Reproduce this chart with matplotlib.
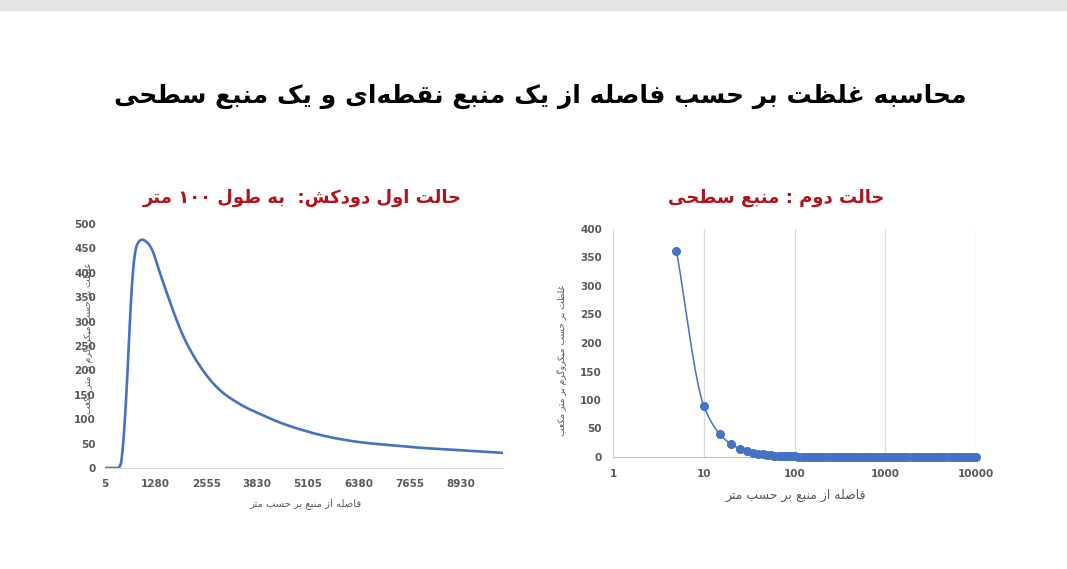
import re
import numpy as np
import matplotlib
matplotlib.use("Agg")
import matplotlib.pyplot as plt
from matplotlib.patches import Rectangle, PathPatch
from matplotlib.path import Path

# --- data ---
# case 1: chimney (point source), distance in m vs concentration
dist1 = [5, 300, 350, 400, 450, 500, 550, 600, 650, 700, 750, 800, 850, 900, 950,
         1000, 1100, 1200, 1300, 1400, 1500, 1600, 1800, 2000, 2250, 2500, 2750,
         3000, 3250, 3500, 4000, 4500, 5000, 5500, 6000, 6500, 7000, 7500, 8000,
         8500, 9000, 9500, 10000]
conc1 = [0, 0, 1, 8, 40, 95, 165, 248, 330, 395, 435, 455, 463, 467, 468,
         466, 459, 445, 421, 396, 372, 349, 304, 265, 227, 196, 171,
         152, 138, 126, 107, 90, 77, 66, 58, 52, 48, 44.5, 41,
         38.5, 36, 33.5, 31]
xticks1 = [5, 1280, 2555, 3830, 5105, 6380, 7655, 8930]

# case 2: area source
dist2 = [5, 10, 15, 20, 25, 30, 35, 40, 45, 50, 55, 60, 65, 70, 75, 80, 85, 90, 95, 100,
         110, 120, 130, 140, 150, 160, 170, 180, 190, 200, 215, 230, 250, 270, 290,
         310, 330, 350, 380, 410, 440, 470, 500, 540, 580, 620, 670, 720, 770, 830,
         890, 950, 1000, 1080, 1160, 1250, 1350, 1450, 1550, 1650, 1800, 1950, 2100,
         2250, 2400, 2600, 2800, 3000, 3250, 3500, 3750, 4000, 4300, 4600, 5000,
         5400, 5800, 6200, 6700, 7200, 7700, 8300, 8900, 9500, 10000]
conc2 = [362, 90, 40, 22.6, 14.5, 10, 7.4, 5.7, 4.5, 3.6, 3.0, 2.5, 2.1, 1.8, 1.6, 1.4,
         1.25, 1.1, 1.0, 0.9,
         0.75, 0.63, 0.54, 0.46, 0.4, 0.35, 0.31, 0.28, 0.25, 0.23, 0.2, 0.17, 0.14,
         0.12, 0.11, 0.09, 0.08, 0.07, 0.06, 0.05, 0.05, 0.04, 0.04, 0.03, 0.03,
         0.02, 0.02, 0.02, 0.02, 0.01, 0.01, 0.01, 0.01,
         0, 0, 0, 0, 0, 0, 0, 0, 0, 0, 0, 0, 0, 0, 0, 0,
         0, 0, 0, 0, 0, 0, 0, 0, 0, 0, 0, 0, 0, 0, 0, 0]
xticks2 = [1, 10, 100, 1000, 10000]

title_main = "محاسبه غلظت بر حسب فاصله از یک منبع نقطه‌ای و یک منبع سطحی"
title1 = "حالت اول دودکش:  به طول ۱۰۰ متر"
title2 = "حالت دوم : منبع سطحی"
xlabel = "فاصله از منبع بر حسب متر"
ylabel = "غلظت بر حسب میکروگرم بر متر مکعب"

# matplotlib has no arabic shaping, so do it by hand with presentation forms
FORMS = {
    "\u0627": ("\uFE8D", "\uFE8E", None, None),
    "\u0628": ("\uFE8F", "\uFE90", "\uFE91", "\uFE92"),
    "\u062A": ("\uFE95", "\uFE96", "\uFE97", "\uFE98"),
    "\u062D": ("\uFEA1", "\uFEA2", "\uFEA3", "\uFEA4"),
    "\u062F": ("\uFEA9", "\uFEAA", None, None),
    "\u0631": ("\uFEAD", "\uFEAE", None, None),
    "\u0632": ("\uFEAF", "\uFEB0", None, None),
    "\u0633": ("\uFEB1", "\uFEB2", "\uFEB3", "\uFEB4"),
    "\u0634": ("\uFEB5", "\uFEB6", "\uFEB7", "\uFEB8"),
    "\u0635": ("\uFEB9", "\uFEBA", "\uFEBB", "\uFEBC"),
    "\u0637": ("\uFEC1", "\uFEC2", "\uFEC3", "\uFEC4"),
    "\u0638": ("\uFEC5", "\uFEC6", "\uFEC7", "\uFEC8"),
    "\u0639": ("\uFEC9", "\uFECA", "\uFECB", "\uFECC"),
    "\u063A": ("\uFECD", "\uFECE", "\uFECF", "\uFED0"),
    "\u0641": ("\uFED1", "\uFED2", "\uFED3", "\uFED4"),
    "\u0642": ("\uFED5", "\uFED6", "\uFED7", "\uFED8"),
    "\u0644": ("\uFEDD", "\uFEDE", "\uFEDF", "\uFEE0"),
    "\u0645": ("\uFEE1", "\uFEE2", "\uFEE3", "\uFEE4"),
    "\u0646": ("\uFEE5", "\uFEE6", "\uFEE7", "\uFEE8"),
    "\u0647": ("\uFEE9", "\uFEEA", "\uFEEB", "\uFEEC"),
    "\u0648": ("\uFEED", "\uFEEE", None, None),
    "\u06CC": ("\uFBFC", "\uFBFD", "\uFBFE", "\uFBFF"),
    "\u06A9": ("\uFB8E", "\uFB8F", "\uFB90", "\uFB91"),
    "\u06AF": ("\uFB92", "\uFB93", "\uFB94", "\uFB95"),
}


def fa(text):
    out = []
    for i, c in enumerate(text):
        if c not in FORMS:
            if c != "\u200c":
                out.append(c)
            continue
        prev = text[i - 1] if i > 0 else None
        nxt = text[i + 1] if i + 1 < len(text) else None
        f = FORMS[c]
        jp = prev in FORMS and FORMS[prev][2] is not None
        jn = f[2] is not None and nxt in FORMS
        if jp and jn:
            out.append(f[3])
        elif jp:
            out.append(f[1])
        elif jn:
            out.append(f[2])
        else:
            out.append(f[0])
    toks = re.findall(r"[0-9\u06F0-\u06F9]+|.", "".join(out))
    return "".join(reversed(toks))


def smooth_path(x, y, logx=False):
    # monotone bezier through the points (pchip-style slopes), like excel's smoothed line
    u = np.log10(x) if logx else np.asarray(x, float)
    v = np.asarray(y, float)
    n = len(u)
    h = np.diff(u)
    sec = np.diff(v) / h
    d = np.zeros(n)
    d[0], d[-1] = sec[0], sec[-1]
    for k in range(1, n - 1):
        if sec[k - 1] * sec[k] > 0:
            w1 = 2 * h[k] + h[k - 1]
            w2 = h[k] + 2 * h[k - 1]
            d[k] = (w1 + w2) / (w1 / sec[k - 1] + w2 / sec[k])
    verts = [(u[0], v[0])]
    codes = [Path.MOVETO]
    for i in range(n - 1):
        verts += [(u[i] + h[i] / 3, v[i] + d[i] * h[i] / 3),
                  (u[i + 1] - h[i] / 3, v[i + 1] - d[i + 1] * h[i] / 3),
                  (u[i + 1], v[i + 1])]
        codes += [Path.CURVE4] * 3
    verts = np.array(verts)
    if logx:
        verts[:, 0] = 10 ** verts[:, 0]
    return Path(verts, codes)


plt.rcParams["font.family"] = ["DejaVu Sans"]
blue = "#4472C4"
red = "#B0141C"
gray = "#595959"

fig = plt.figure(figsize=(10.67, 5.69), dpi=100)
fig.add_artist(Rectangle((0, 1 - 10 / 569), 1, 10 / 569, transform=fig.transFigure,
                         color="#e4e4e4", zorder=0))
fig.text(540 / 1067, 1 - 96 / 569, fa(title_main), ha="center", va="center",
         fontsize=18, fontweight="bold", color="black")

# left chart
ax1 = fig.add_axes([105 / 1067, 1 - 468 / 569, 398 / 1067, 244 / 569])
ax1.add_patch(PathPatch(smooth_path(dist1, conc1), fill=False, edgecolor=blue,
                        lw=1.9, capstyle="round"))
ax1.set_xlim(5, 10000)
ax1.set_ylim(0, 500)
ax1.set_yticks(range(0, 501, 50))
ax1.set_xticks(xticks1)
ax1.set_xticklabels([str(v) for v in xticks1])
for s in ["top", "right", "left"]:
    ax1.spines[s].set_visible(False)
ax1.spines["bottom"].set_color("#d9d9d9")
ax1.tick_params(length=0, labelsize=7.5, labelcolor=gray)
ax1.tick_params(axis="y", pad=6.5)
ax1.tick_params(axis="x", pad=8)
for lb in ax1.get_xticklabels() + ax1.get_yticklabels():
    lb.set_fontweight("bold")
fig.text(302 / 1067, 1 - 198 / 569, fa(title1), ha="center", va="center",
         fontsize=13, fontweight="bold", color=red)
fig.text(305 / 1067, 1 - 504 / 569, fa(xlabel), ha="center", va="center",
         fontsize=7.2, color=gray)
fig.text(88 / 1067, 1 - 338 / 569, fa(ylabel), ha="center", va="center",
         fontsize=6.5, color=gray, rotation=90)

# right chart
ax2 = fig.add_axes([613 / 1067, 1 - 457 / 569, 363 / 1067, 228 / 569])
ax2.set_xscale("log")
ax2.add_patch(PathPatch(smooth_path(dist2, conc2, logx=True), fill=False,
                        edgecolor=blue, lw=1.1, zorder=3))
ax2.plot(dist2, conc2, ls="none", color=blue, marker="o", ms=5.5, zorder=4,
         clip_on=False)
ax2.set_xlim(1, 10000)
ax2.set_ylim(0, 400)
ax2.set_yticks(range(0, 401, 50))
ax2.set_xticks(xticks2)
ax2.set_xticklabels([str(v) for v in xticks2])
ax2.minorticks_off()
ax2.grid(axis="x", color="#d9d9d9", lw=0.9)
for s in ["top", "right"]:
    ax2.spines[s].set_visible(False)
ax2.spines["left"].set_color("#d9d9d9")
ax2.spines["bottom"].set_color("#bfbfbf")
ax2.tick_params(length=0, labelsize=7.5, labelcolor=gray)
ax2.tick_params(axis="y", pad=8)
ax2.tick_params(axis="x", pad=8.5)
for lb in ax2.get_xticklabels() + ax2.get_yticklabels():
    lb.set_fontweight("bold")
fig.text(776 / 1067, 1 - 198 / 569, fa(title2), ha="center", va="center",
         fontsize=13, fontweight="bold", color=red)
fig.text(796 / 1067, 1 - 495 / 569, fa(xlabel), ha="center", va="center",
         fontsize=9, color=gray)
fig.text(562 / 1067, 1 - 360 / 569, fa(ylabel), ha="center", va="center",
         fontsize=6.5, color=gray, rotation=90)

fig.savefig("out.png", dpi=100, facecolor="white")
